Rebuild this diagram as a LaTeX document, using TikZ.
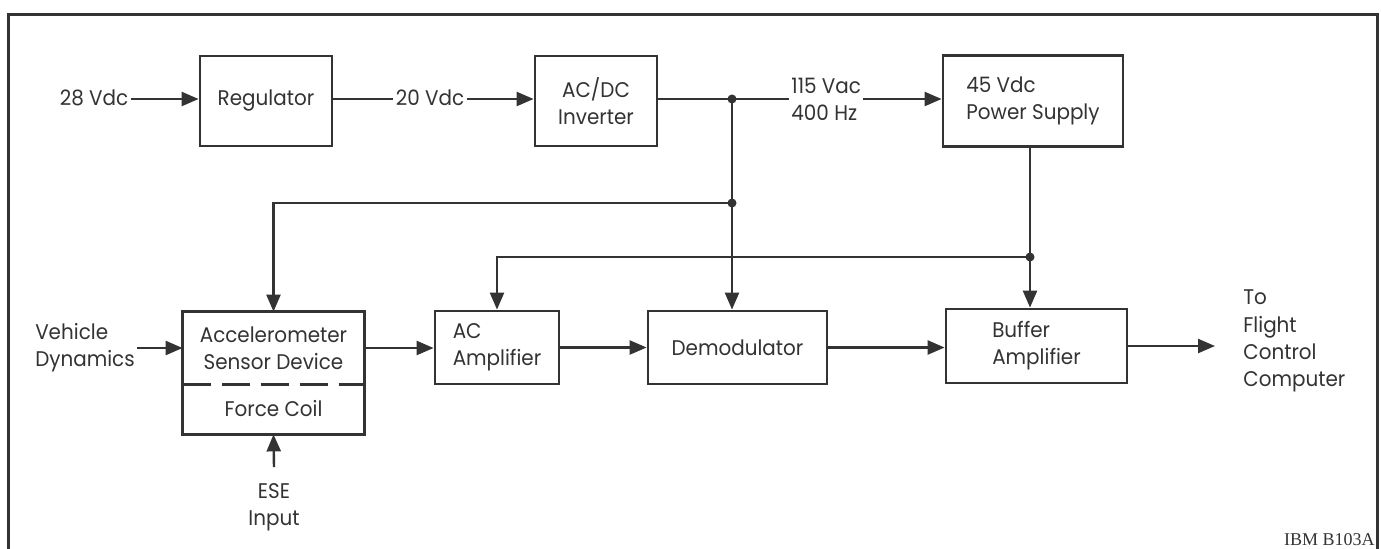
\documentclass[tikz,border=0pt]{standalone}
\usepackage{fontspec}
\setmainfont{Poppins}[FakeStretch=0.94]
\newfontfamily\idfont{Liberation Serif}
\usetikzlibrary{arrows.meta,calc}
\definecolor{ink}{HTML}{333333}
\begin{document}
\begin{tikzpicture}[x=0.5pt,y=-0.5pt,
  txt/.style={text=ink, inner sep=1pt, font=\fontsize{10.6}{13.6}\selectfont, align=left},
  blk/.style={txt, draw=ink, line width=1.4pt, inner sep=0pt, align=center},
  conn/.style={draw=ink, line width=1.2pt},
  arr/.style={conn, -{Triangle[length=8.5pt,width=7pt]}},
  jdot/.style={circle, fill=ink, inner sep=0pt, minimum size=4.5pt},
  frame/.style={draw=ink, line width=1.5pt}
]
\useasboundingbox (0,0) rectangle (1381,548);
\fill[white] (0,0) rectangle (1381,548);
\draw[frame] (8,560) -- (8,14) -- (1377,14) -- (1377,560);

% top row
\node[txt] (in28) at (94,98) {28 Vdc};
\node[blk, minimum width=66pt, minimum height=45pt] (reg) at (266,101) {Regulator};
\node[txt] (v20) at (430,98) {20 Vdc};
\node[blk, minimum width=61pt, minimum height=45pt] (inv) at (596,101) {AC/DC\\Inverter};
\node[txt, anchor=west] (vac) at (789,99) {115 Vac\\400 Hz};
\node[blk, minimum width=90pt, minimum height=45.5pt, align=left] (ps) at (1033,101) {45 Vdc\\Power Supply};

% junctions
\node[jdot] (j1) at (732,99) {};
\node[jdot] (j2) at (732,203) {};
\node[jdot] (j3) at (1030,257) {};

% bottom row
\node[txt] (vd) at (85,348) {Vehicle\\Dynamics};
\node[txt, minimum width=90.5pt, minimum height=36pt, inner sep=0pt, align=center] (acc) at (273.5,348) {Accelerometer\\Sensor Device};
\node[txt, minimum width=90.5pt, minimum height=25pt, inner sep=0pt] (fc) at (273.5,409) {Force Coil};
\draw[ink, line width=1.4pt] (acc.north west) rectangle (fc.south east);
\draw[ink, line width=1.4pt, dash pattern=on 14pt off 5.5pt] (acc.south west) -- (acc.south east);
\node[txt, align=center] (ese) at (274,507) {ESE\\Input};
\coordinate (esetop) at (274,467);

\node[blk, minimum width=62pt, minimum height=36.5pt, align=left] (aca) at (497,347.5) {AC\\Amplifier};
\node[blk, minimum width=89.5pt, minimum height=36.5pt] (dem) at (737.5,347.5) {Demodulator};
\node[blk, minimum width=90.5pt, minimum height=37pt, align=left] (buf) at (1036.5,346) {Buffer\\Amplifier};
\coordinate (oute) at (1215,346);
\node[txt, anchor=west] (tf) at (1241,341) {To\\Flight\\Control\\Computer};

\node[text=ink, inner sep=0pt, anchor=base east, font=\idfont\fontsize{9}{10}\selectfont] (id) at (1375,545) {IBM B103A};

% connectors
\draw[arr] (in28.east|-j1) -- (reg.west|-j1);
\draw[conn] (reg.east|-j1) -- (v20.west|-j1);
\draw[arr] (v20.east|-j1) -- (inv.west|-j1);
\draw[conn] (inv.east|-j1) -- (j1.center) -- (vac.west|-j1);
\draw[arr] (vac.east|-j1) -- (ps.west|-j1);
\draw[arr] (j1.center) -- (dem.north-|j1);
\draw[arr] (j2.center) -| (acc.north);
\draw[arr] (ps.south-|j3) -- (buf.north-|j3);
\draw[arr] (j3.center) -| (aca.north);
\draw[arr] (vd.east|-acc) -- (acc.west);
\draw[arr] (acc.east) -- (aca.west|-acc);
\draw[arr] (aca.east) -- (dem.west);
\draw[arr] (dem.east) -- (buf.west|-dem.east);
\draw[arr] (buf.east) -- (oute);
\draw[arr] (esetop) -- (fc.south);
\end{tikzpicture}
\end{document}
